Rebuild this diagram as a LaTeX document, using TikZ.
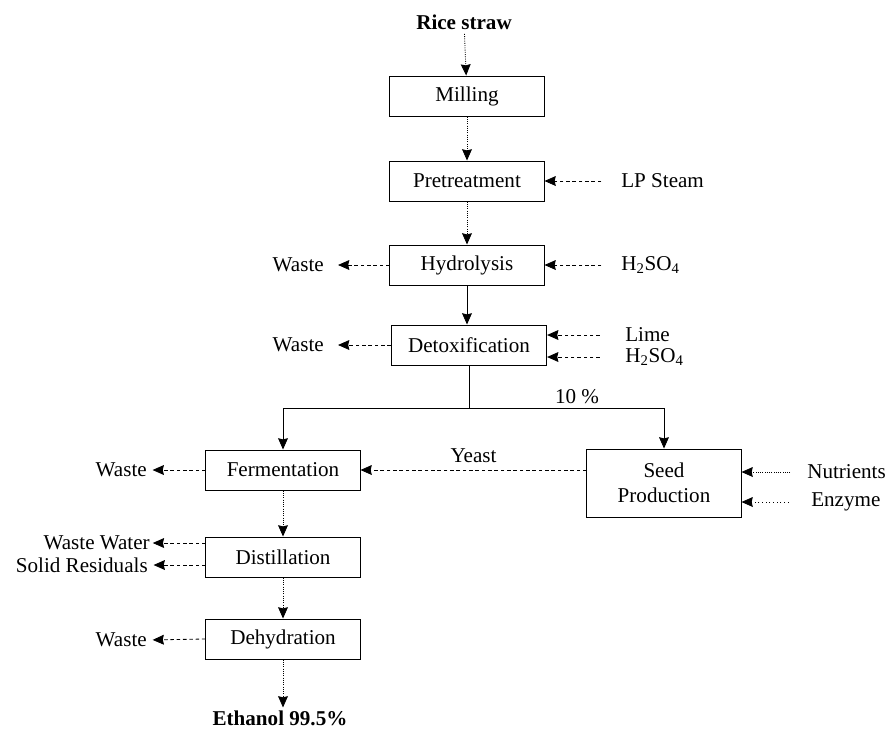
\documentclass[tikz,border=0pt]{standalone}
\usepackage{fontspec}
\setmainfont{Liberation Serif}
\usetikzlibrary{arrows.meta}

\begin{document}
\begin{tikzpicture}[x=0.025cm, y=-0.025cm,
      every node/.style={font=\fontsize{15pt}{18pt}\selectfont},
      unit/.style={draw, line width=0.7pt, minimum width=3.85cm, minimum height=1cm, align=center},
      side/.style={inner sep=0pt},
      flow/.style={line width=0.6pt, densely dotted, -{Stealth[length=8pt,width=7pt,inset=0.8pt]}},
      feed/.style={line width=0.6pt, dash pattern=on 2.5pt off 2pt, -{Stealth[length=8pt,width=7pt,inset=0.8pt]}},
      pipe/.style={line width=0.6pt, -{Stealth[length=8pt,width=7pt,inset=0.8pt]}}]
      \useasboundingbox (0,0) rectangle (888,733);
      % main line
      \node[side, font=\fontsize{15pt}{18pt}\selectfont\bfseries] (rice) at (464,22) {Rice straw};
      \node[unit] (mill) at (467,96) {Milling};
      \node[unit] (pretreat) at (467,181) {Pretreatment};
      \node[unit] (hydro) at (467,265) {Hydrolysis};
      \node[unit, minimum width=3.88cm] (detox) at (469,345) {Detoxification};
      \node[unit] (ferm) at (283,470) {Fermentation};
      \node[unit, minimum height=1.7cm] (seed) at (664,483) {Seed\\Production};
      \node[unit] (distil) at (283,557) {Distillation};
      \node[unit] (dehyd) at (283,639) {Dehydration};
      \node[side, font=\fontsize{15pt}{18pt}\selectfont\bfseries] (ethanol) at (280,718) {Ethanol 99.5\%};
      \coordinate (split) at (469,408);
      \node (frac) at (577,397) {10 \%};
      % feeds and wastes
      \node[side, anchor=west] (steam) at (621,181) {LP Steam};
      \node[side, anchor=west] (acid) at (621,265) {H\textsubscript{2}SO\textsubscript{4}};
      \node[side, anchor=west] (lime) at (625,335) {Lime};
      \node[side, anchor=west] (acidb) at (625,357) {H\textsubscript{2}SO\textsubscript{4}};
      \node[side, anchor=west] (nutr) at (807,472) {Nutrients};
      \node[side, anchor=west] (enz) at (811,502) {Enzyme};
      \node[side, anchor=east] (wastea) at (324,265) {Waste};
      \node[side, anchor=east] (wasteb) at (324,345) {Waste};
      \node[side, anchor=east] (wastec) at (147,470) {Waste};
      \node[side, anchor=east] (water) at (150,543) {Waste Water};
      \node[side, anchor=east] (solid) at (148,565) {Solid Residuals};
      \node[side, anchor=east] (wasted) at (147,640) {Waste};
      % connectors
      \draw[flow, shorten <=3pt] (rice) -- (mill);
      \draw[flow] (mill) -- (pretreat);
      \draw[flow] (pretreat) -- (hydro);
      \draw[pipe] (hydro.south) -- (hydro.south |- detox.north);
      \draw[line width=0.6pt] (detox.south) -- (split);
      \draw[pipe] (split) -| (ferm.north);
      \draw[pipe] (split) -| (seed.north);
      \draw[feed] (seed.west |- ferm.east) -- node[above, inner sep=5pt] {Yeast} (ferm.east);
      \draw[flow] (ferm) -- (distil);
      \draw[flow] (distil) -- (dehyd);
      \draw[flow, shorten >=2pt] (dehyd.south) -- (dehyd.south |- ethanol.north);
      \draw[feed, shorten <=14pt] (steam.west) -- (pretreat.east);
      \draw[feed, shorten <=14pt] (acid.west) -- (hydro.east);
      \draw[feed, shorten <=18pt] (lime.west) -- (lime.west -| detox.east);
      \draw[feed, shorten <=18pt] (acidb.west) -- (acidb.west -| detox.east);
      \draw[feed, densely dotted, shorten <=12pt] (nutr.west) -- (nutr.west -| seed.east);
      \draw[feed, dotted, shorten <=16pt] (enz.west) -- (enz.west -| seed.east);
      \draw[feed, shorten >=10pt] (hydro.west) -- (wastea.east);
      \draw[feed, shorten >=10pt] (detox.west) -- (wasteb.east);
      \draw[feed, shorten >=4pt] (ferm.west) -- (wastec.east);
      \draw[feed, shorten >=2pt] (water.east -| distil.west) -- (water.east);
      \draw[feed, shorten >=4pt] (solid.east -| distil.west) -- (solid.east);
      \draw[feed, shorten >=4pt] (dehyd.west) -- (wasted.east);
    \end{tikzpicture}
\end{document}
